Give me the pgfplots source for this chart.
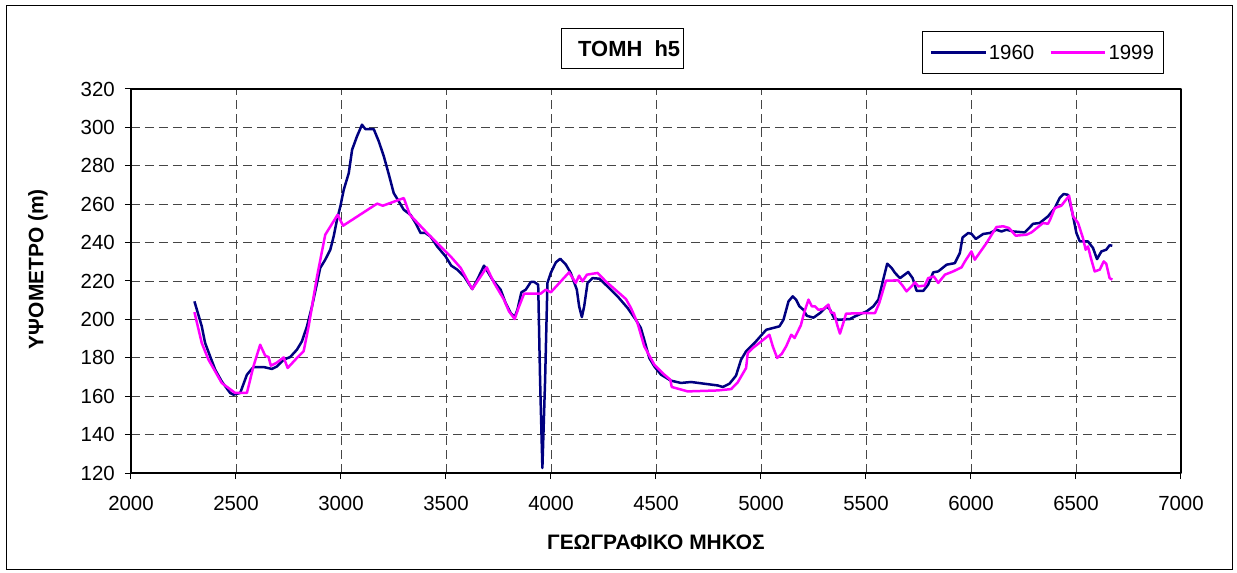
\documentclass[border=0pt]{standalone}
\usepackage{fontspec}
\setmainfont{Liberation Sans}
\usepackage{pgfplots}
\pgfplotsset{compat=1.18}
\definecolor{navyline}{RGB}{0,0,128}
\definecolor{magline}{RGB}{255,0,255}
\definecolor{gridgray}{RGB}{70,70,70}
\begin{document}
\begin{tikzpicture}
\useasboundingbox (-131bp,-100bp) rectangle (1106bp,473bp);
\draw[line width=1bp] (-124bp,-96bp) rectangle (1101bp,467bp);
\begin{axis}[
  at={(0,0)}, anchor=south west,
  scale only axis, width=1050bp, height=384bp,
  xmin=2000, xmax=7000, ymin=120, ymax=320,
  xtick={2000,2500,...,7000}, ytick={120,140,...,320},
  xtick pos=left, ytick pos=left,
  tick align=outside, major tick length=6bp,
  tick style={black, line width=1bp},
  axis line style={line width=2.2bp},
  grid=major,
  major grid style={gridgray, line width=0.9bp, dash pattern=on 9bp off 5bp},
  /pgf/number format/assume math mode=true,
  /pgf/number format/1000 sep={},
  ticklabel style={font=\fontsize{20.5}{24}\selectfont, inner sep=0pt},
  xticklabel style={yshift=-17bp},
  yticklabel style={xshift=-10bp},
  xlabel={ΓΕΩΓΡΑΦΙΚΟ ΜΗΚΟΣ}, ylabel={ΥΨΟΜΕΤΡΟ (m)},
  label style={font=\bfseries\fontsize{21}{25}\selectfont, inner sep=0pt},
  xlabel style={at={(axis description cs:0.5,-0.1797)}, anchor=center},
  ylabel style={at={(axis description cs:-0.0886,0.531)}, anchor=center},
  legend columns=2,
  legend image code/.code={\draw[#1] (0bp,0bp) -- (54.7bp,0bp);},
  legend style={at={(0.7536,1.039)}, anchor=south west, draw=black, line width=0.8bp,
    font=\fontsize{20.5}{24}\selectfont, inner xsep=7bp, inner ysep=11bp,
    nodes={inner sep=2bp},
    /tikz/every even column/.append style={column sep=13bp}},
  line join=round,
]
\addplot[navyline, line width=2.5bp] coordinates {
(2302,209.4) (2337,196.4) (2353,187.7) (2377,180.7) (2401,173.8) (2432,167.7)
(2472,161.7) (2488,160.8) (2520,161.7) (2552,171.2) (2583,175.2) (2631,175.2)
(2671,174.2) (2695,175.5) (2727,179) (2758,180.4) (2790,184.2) (2814,188.6)
(2838,196.4) (2862,206.8) (2886,219) (2901,226.8) (2925,231.1) (2949,236.3)
(2965,243.2) (2981,251.9) (2997,258.9) (3013,267.5) (3037,276.2) (3053,288.4)
(3076,295.3) (3100,301.4) (3116,299.1) (3156,299.1) (3180,292.7) (3204,284.9)
(3228,275.4) (3251,265.8) (3275,261.5) (3299,257.1) (3331,254.5) (3355,250.2)
(3379,245) (3402,245) (3426,243.2) (3458,238) (3498,232.8) (3525,228)
(3554,225.9) (3586,222.4) (3625,215.8) (3649,220.7) (3681,228) (3721,220.7)
(3760,215.5) (3784,208.5) (3808,203.3) (3827,201.2) (3840,205) (3859,214.1)
(3880,215.5) (3904,219.5) (3920,219.5) (3939,218.1) (3948,168.6) (3959,122.6)
(3972,168.6) (3983,219) (3999,224.2) (4023,229.7) (4044,231.6) (4071,228.5)
(4094,224.2) (4123,215.5) (4134,206.8) (4147,201.2) (4158,206.8) (4174,219)
(4198,221.5) (4230,221.2) (4269,217.2) (4317,212) (4365,205.9) (4404,199.8)
(4428,195.5) (4444,189.4) (4468,179.9) (4492,175.5) (4524,171.2) (4571,168.1)
(4619,166.9) (4667,167.4) (4730,166.5) (4794,165.6) (4818,164.8) (4850,166.5)
(4881,170.7) (4905,179) (4929,183.4) (4969,187.7) (5025,194.6) (5088,196.4)
(5107,199.8) (5131,209.4) (5151,212) (5167,210.3) (5183,206.8) (5202,205)
(5218,201.9) (5250,200.9) (5281,203.3) (5313,206.8) (5329,205) (5348,200.7)
(5368,199.8) (5424,200.2) (5448,201.6) (5503,204.2) (5535,206.8) (5559,210.3)
(5582,220.7) (5601,229) (5622,226.8) (5638,224.2) (5662,221.5) (5701,224.7)
(5722,221.5) (5741,214.9) (5773,214.9) (5796,218.1) (5820,224.5) (5844,225)
(5884,228.5) (5923,229.3) (5947,234.6) (5960,242.7) (5987,245) (6002,244.6)
(6023,241.9) (6058,244.5) (6090,245) (6121,246.7) (6145,245.8) (6169,246.7)
(6201,245.8) (6256,245.3) (6296,249.8) (6327,250.2) (6367,253.7) (6399,258)
(6422,263.2) (6441,265.3) (6462,264.9) (6483,255.4) (6502,245) (6518,240.6)
(6557,240.6) (6581,237.2) (6600,231.4) (6621,235.4) (6644,236.3) (6660,238.6)
(6673,238.4)
};
\addlegendentry{1960}
\addplot[magline, line width=2.5bp] coordinates {
(2302,203.8) (2337,187.7) (2369,179) (2401,172.9) (2432,166.9) (2496,161.7)
(2552,161.7) (2583,175.5) (2615,186.8) (2639,181.1) (2655,180.4) (2666,175.9)
(2692,177.3) (2727,180.2) (2746,174.7) (2790,179.9) (2822,183.4) (2846,196.4)
(2886,222.4) (2925,244.1) (2984,254.5) (3010,248.8) (3172,260.3) (3199,259.2)
(3299,263.2) (3328,254.5) (3410,245) (3522,232.8) (3570,226.8) (3625,215.8)
(3694,227.1) (3729,219) (3776,210.3) (3800,204.2) (3827,200.2) (3848,206.8)
(3872,213.4) (3951,213.4) (3975,215.5) (3999,214.1) (4086,224.5) (4118,219)
(4134,222.8) (4150,219.8) (4171,223.3) (4222,224.2) (4261,219.8) (4333,212.9)
(4357,210.6) (4381,205.9) (4412,198.1) (4444,186) (4492,176.4) (4540,171.2)
(4568,168.6) (4575,164.8) (4651,162.5) (4794,163) (4858,163.7) (4889,167.2)
(4929,174.7) (4937,182.5) (4961,185.1) (5001,188.5) (5040,192) (5056,186)
(5077,179.9) (5099,182.1) (5120,186) (5144,192) (5160,190.3) (5190,197)
(5205,203.3) (5226,210.3) (5242,206.8) (5257,206.8) (5273,205) (5297,205.4)
(5321,207.7) (5332,203.7) (5348,203.3) (5364,196.7) (5376,192.6) (5392,198.1)
(5405,203) (5503,203.3) (5543,203.3) (5563,208.5) (5595,220.2) (5654,220.3)
(5674,217.6) (5693,214.6) (5717,217.2) (5733,219.3) (5749,217.2) (5780,217.6)
(5796,221.5) (5823,222.4) (5844,219) (5876,223.3) (5915,225) (5955,227.1)
(5971,230.2) (6002,235.4) (6018,231.1) (6074,239.8) (6121,248.1) (6153,248.5)
(6181,247.6) (6213,243.6) (6264,244.1) (6288,245.3) (6343,250.2) (6367,249.8)
(6378,252.3) (6399,258) (6430,259.2) (6467,264.4) (6486,253.7) (6510,250.2)
(6533,242.4) (6546,236.3) (6557,238) (6573,231.1) (6589,225) (6613,225.9)
(6632,230.2) (6644,229) (6660,221.5) (6673,220.7)
};
\addlegendentry{1999}
\end{axis}
\draw[line width=0.8bp] (430.7bp,404.7bp) rectangle (552.3bp,444.7bp);
\node[anchor=west, inner sep=0pt, font=\bfseries\fontsize{22}{26}\selectfont] at (447bp,424.7bp) {ΤΟΜΗ\ \ h5};
\end{tikzpicture}
\end{document}
